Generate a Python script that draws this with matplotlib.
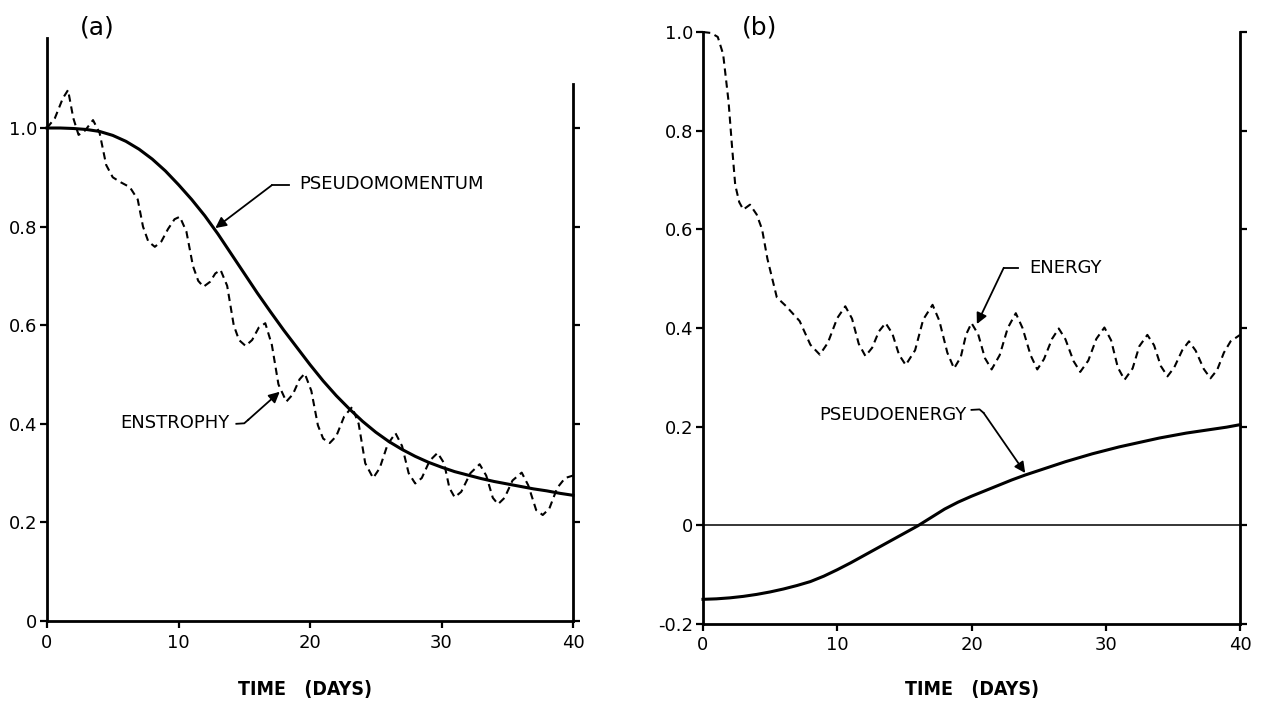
import numpy as np
import matplotlib.pyplot as plt

# ---- panel (a): enstrophy / pseudomomentum, normalised ----
t_pm = list(range(0, 41))
pseudomomentum = [1.0, 1.0, 0.999, 0.997, 0.993, 0.985, 0.973, 0.957, 0.937, 0.913, 0.885,
                  0.855, 0.822, 0.785, 0.745, 0.705, 0.665, 0.627, 0.59, 0.555, 0.52,
                  0.487, 0.457, 0.43, 0.405, 0.383, 0.364, 0.348, 0.334, 0.322, 0.312,
                  0.303, 0.296, 0.289, 0.283, 0.278, 0.273, 0.268, 0.264, 0.259, 0.255]

t_ens = [0, 0.6, 1.2, 1.6, 2.0, 2.4, 2.9, 3.5, 4.0, 4.5, 5.0, 5.6, 6.3, 6.9, 7.3, 7.7,
         8.2, 8.7, 9.2, 9.7, 10.1, 10.6, 11.1, 11.5, 11.9, 12.4, 12.8, 13.2, 13.7, 14.2,
         14.6, 15.1, 15.6, 16.1, 16.6, 17.1, 17.6, 18.2, 18.7, 19.2, 19.6, 20.1, 20.6,
         21.0, 21.5, 22.0, 22.6, 23.2, 23.7, 24.2, 24.8, 25.3, 25.9, 26.5, 27.0, 27.5,
         28.0, 28.5, 29.1, 29.7, 30.2, 30.6, 31.0, 31.5, 32.2, 32.9, 33.4, 33.9, 34.3,
         34.8, 35.4, 36.1, 36.6, 37.2, 37.7, 38.2, 38.8, 39.4, 40]
enstrophy = [1.0, 1.02, 1.06, 1.077, 1.02, 0.986, 0.995, 1.016, 0.99, 0.925, 0.90, 0.89,
             0.88, 0.855, 0.80, 0.77, 0.759, 0.77, 0.795, 0.815, 0.82, 0.79, 0.72, 0.69,
             0.678, 0.688, 0.705, 0.712, 0.68, 0.60, 0.57, 0.558, 0.57, 0.595, 0.604,
             0.56, 0.48, 0.445, 0.46, 0.49, 0.502, 0.467, 0.397, 0.37, 0.361, 0.375,
             0.415, 0.434, 0.40, 0.32, 0.29, 0.31, 0.358, 0.381, 0.355, 0.30, 0.279,
             0.29, 0.325, 0.341, 0.32, 0.27, 0.251, 0.262, 0.30, 0.318, 0.295, 0.25,
             0.237, 0.25, 0.285, 0.301, 0.275, 0.225, 0.215, 0.228, 0.27, 0.29, 0.295]

# ---- panel (b): energy / pseudoenergy ----
t_pe = list(range(0, 41))
pseudoenergy = [-0.150, -0.149, -0.147, -0.144, -0.140, -0.135, -0.129, -0.122, -0.114,
                -0.103, -0.090, -0.076, -0.061, -0.046, -0.031, -0.016, -0.001, 0.016,
                0.033, 0.047, 0.059, 0.070, 0.081, 0.092, 0.102, 0.111, 0.120, 0.129,
                0.137, 0.145, 0.152, 0.159, 0.165, 0.171, 0.177, 0.182, 0.187, 0.191,
                0.195, 0.199, 0.204]

t_en = [0, 0.6, 1.1, 1.5, 1.9, 2.15, 2.4, 2.7, 3.0, 3.5, 4.0, 4.4, 4.8, 5.5, 6.2, 7.2,
        8.0, 8.7, 9.3, 10.0, 10.6, 11.1, 11.6, 12.1, 12.6, 13.1, 13.6, 14.1, 14.6, 15.1,
        15.8, 16.4, 17.1, 17.6, 18.2, 18.7, 19.2, 19.6, 20.0, 20.5, 21.0, 21.5, 22.1,
        22.7, 23.3, 23.8, 24.4, 24.9, 25.4, 26.0, 26.5, 27.0, 27.6, 28.1, 28.7, 29.3,
        29.9, 30.4, 30.9, 31.4, 32.0, 32.5, 33.1, 33.6, 34.1, 34.6, 35.1, 35.7, 36.2,
        36.7, 37.3, 37.8, 38.3, 38.8, 39.3, 40]
energy = [1.0, 0.998, 0.99, 0.955, 0.86, 0.772, 0.69, 0.655, 0.64, 0.65, 0.63, 0.60,
          0.54, 0.462, 0.444, 0.414, 0.366, 0.346, 0.37, 0.42, 0.444, 0.419, 0.368,
          0.343, 0.36, 0.393, 0.41, 0.389, 0.346, 0.325, 0.355, 0.417, 0.447, 0.415,
          0.35, 0.318, 0.341, 0.387, 0.41, 0.387, 0.339, 0.316, 0.345, 0.40, 0.43,
          0.40, 0.345, 0.316, 0.337, 0.378, 0.399, 0.377, 0.333, 0.311, 0.334, 0.378,
          0.401, 0.375, 0.32, 0.295, 0.318, 0.363, 0.386, 0.365, 0.323, 0.302, 0.32,
          0.355, 0.373, 0.354, 0.317, 0.298, 0.315, 0.35, 0.373, 0.386]

x_ticks = [0, 10, 20, 30, 40]
x_ticklabels = ["0", "10", "20", "30", "40"]
ya_ticks = [0, 0.2, 0.4, 0.6, 0.8, 1.0]
ya_ticklabels = ["0", "0.2", "0.4", "0.6", "0.8", "1.0"]
yb_ticks = [-0.2, 0, 0.2, 0.4, 0.6, 0.8, 1.0]
yb_ticklabels = ["-0.2", "0", "0.2", "0.4", "0.6", "0.8", "1.0"]

W, H = 1263, 708
fig = plt.figure(figsize=(W / 100, H / 100), dpi=100)
fig.patch.set_facecolor("white")

label_font = dict(fontsize=13, family="DejaVu Sans")
DASH = (3.5, 2.3)


def style_axes(ax, ylim, yticks, yticklabels, right_top):
    ax.set_xlim(0, 40)
    ax.set_ylim(*ylim)
    ax.spines["top"].set_visible(False)
    for s in ("left", "right", "bottom"):
        ax.spines[s].set_linewidth(2.0)
    ax.spines["right"].set_bounds(ylim[0], right_top)
    ax.set_xticks(x_ticks)
    ax.set_xticklabels(x_ticklabels)
    ax.set_yticks(yticks)
    ax.set_yticklabels(yticklabels)
    ax.tick_params(direction="out", length=5, width=1.6, labelsize=13, pad=2,
                   right=True, labelright=False)
    ax.tick_params(axis="x", pad=4)
    ax.set_facecolor("none")


def leader(ax, tip, elbow):
    ax.annotate("", xy=tip, xytext=elbow,
                arrowprops=dict(arrowstyle="-|>", color="black", lw=1.3,
                                shrinkA=0, shrinkB=0, mutation_scale=16))


# panel (a)
ax1 = fig.add_axes([47 / W, 1 - 621 / H, 526 / W, 583 / H])
style_axes(ax1, (0, 583 / 493), ya_ticks, ya_ticklabels, 1.09)
ax1.plot(t_pm, pseudomomentum, color="black", lw=2.2, clip_on=False,
         solid_joinstyle="round")
ax1.plot(t_ens, enstrophy, color="black", lw=1.5, dashes=DASH, clip_on=False)

leader(ax1, (12.8, 0.797), (17.1, 0.884))
ax1.plot([17.1, 18.4], [0.884, 0.884], color="black", lw=1.3)
ax1.text(19.2, 0.886, "PSEUDOMOMENTUM", va="center", ha="left", **label_font)

leader(ax1, (17.7, 0.465), (15.3, 0.408))
ax1.plot([14.4, 15.0, 15.3], [0.400, 0.401, 0.408], color="black", lw=1.3)
ax1.text(13.9, 0.402, "ENSTROPHY", va="center", ha="right", **label_font)

# panel (b)
ax2 = fig.add_axes([703 / W, 1 - 624 / H, 537 / W, 592 / H])
style_axes(ax2, (-0.2, 1.0), yb_ticks, yb_ticklabels, 1.0)
ax2.axhline(0, color="black", lw=1.1, xmin=0, xmax=1.01, clip_on=False)
ax2.plot(t_pe, pseudoenergy, color="black", lw=2.2, clip_on=False,
         solid_joinstyle="round")
ax2.plot(t_en, energy, color="black", lw=1.5, dashes=DASH, clip_on=False)

leader(ax2, (20.4, 0.408), (22.4, 0.522))
ax2.plot([22.4, 23.5], [0.522, 0.522], color="black", lw=1.3)
ax2.text(24.3, 0.522, "ENERGY", va="center", ha="left", **label_font)

leader(ax2, (24.0, 0.106), (20.9, 0.228))
ax2.plot([20.0, 20.6, 20.9], [0.234, 0.235, 0.228], color="black", lw=1.3)
ax2.text(19.6, 0.223, "PSEUDOENERGY", va="center", ha="right", **label_font)

# panel letters and axis titles
fig.text(97 / W, 1 - 27 / H, "(a)", ha="center", va="center", fontsize=18)
fig.text(760 / W, 1 - 27 / H, "(b)", ha="center", va="center", fontsize=18)
for xc in (305, 972):
    fig.text(xc / W, 1 - 690 / H, "TIME   (DAYS)", ha="center", va="center",
             fontsize=14, family="DejaVu Sans", fontstretch="condensed",
             fontweight="semibold")

fig.savefig("out.png", dpi=100, facecolor="white")
